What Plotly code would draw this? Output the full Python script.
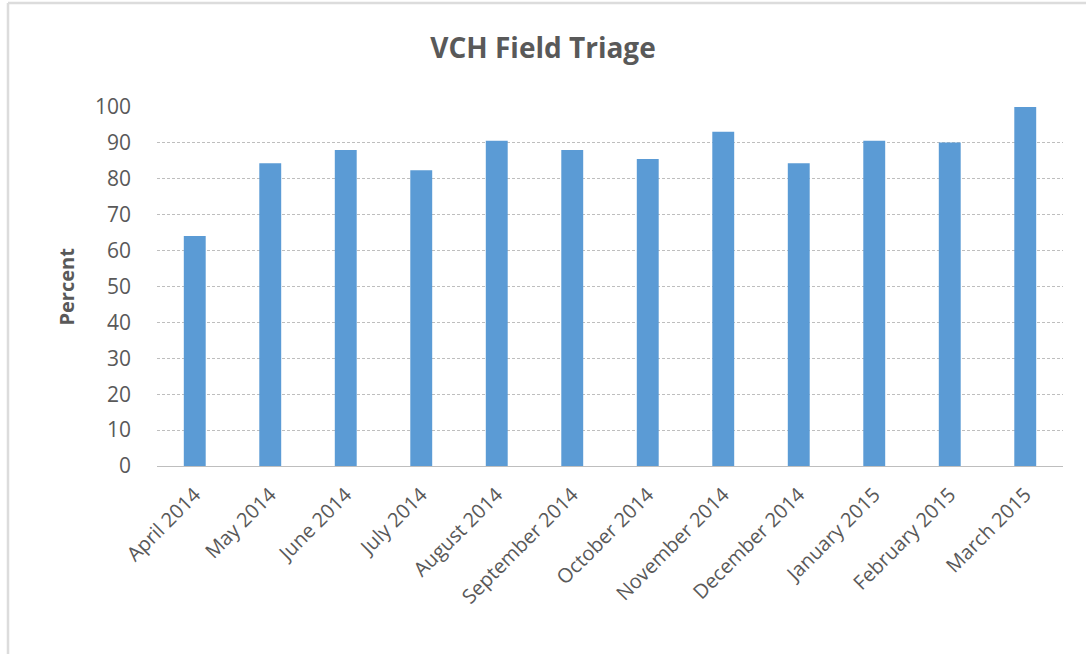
import plotly.graph_objects as go

months = ["April 2014", "May 2014", "June 2014", "July 2014", "August 2014",
          "September 2014", "October 2014", "November 2014", "December 2014",
          "January 2015", "February 2015", "March 2015"]
percent = [64.1, 84.3, 88.0, 82.4, 90.6, 88.0, 85.5, 93.1, 84.3, 90.6, 90.1, 100.0]
y_ticks = [0, 10, 20, 30, 40, 50, 60, 70, 80, 90, 100]

W, H = 1086, 654
L, R, T, B = 157, 23, 107, 188
pw = W - L - R
ph = H - T - B


def px_x(x):
    return (x - L) / pw


def px_y(y):
    return (H - B - y) / ph


fig = go.Figure(go.Bar(x=months, y=percent, marker=dict(color="#5B9BD5", line=dict(width=0)),
                       width=0.29))

# frame lines (top and left) of the original picture
fig.add_shape(type="line", xref="paper", yref="paper",
              x0=px_x(8), x1=px_x(W), y0=px_y(3), y1=px_y(3),
              line=dict(color="#DCDCDC", width=2.5), layer="below")
fig.add_shape(type="line", xref="paper", yref="paper",
              x0=px_x(8), x1=px_x(8), y0=px_y(3), y1=px_y(H),
              line=dict(color="#DCDCDC", width=2.5), layer="below")

fig.add_annotation(text="<b>Percent</b>", xref="paper", yref="paper",
                   x=px_x(66), y=0.5, xanchor="center", yanchor="middle",
                   textangle=-90, showarrow=False,
                   font=dict(size=20, color="#595959", family="Open Sans, sans-serif"))

fig.update_layout(
    width=W, height=H,
    margin=dict(l=L, r=R, t=T, b=B, autoexpand=False),
    paper_bgcolor="white", plot_bgcolor="white",
    font=dict(family="Open Sans, sans-serif", color="#595959"),
    title=dict(text="<b>VCH Field Triage</b>", x=0.5, xref="container", xanchor="center",
               y=1 - 48 / H, yanchor="middle",
               font=dict(size=28, color="#595959", family="Open Sans, sans-serif")),
    showlegend=False,
    xaxis=dict(tickangle=-45, tickfont=dict(size=20, color="#595959"),
               showgrid=False, showline=False, ticks="", ticklabelstandoff=12),
    yaxis=dict(range=[0, 100], tickvals=y_ticks, tickfont=dict(size=21, color="#595959"),
               showgrid=True, gridcolor="#BEBEBE", griddash="3px,2px", gridwidth=1,
               zeroline=True, zerolinecolor="#BEBEBE", zerolinewidth=1,
               showline=False, ticks="", ticklabelstandoff=25),
)

fig.write_html("out.html", config={"displayModeBar": False},
               post_script="document.body.style.margin='0';document.body.style.padding='0';")
